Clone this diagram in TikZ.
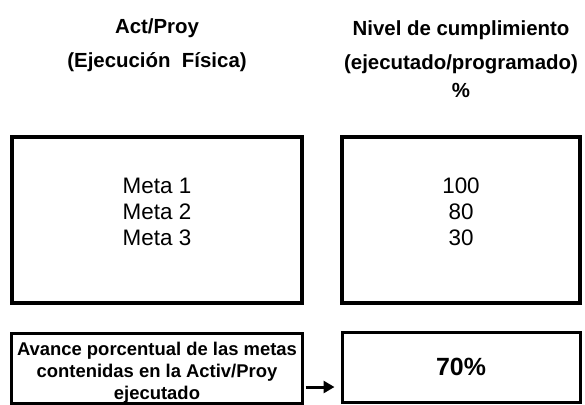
\documentclass[tikz,border=0pt]{standalone}
\usepackage{fontspec}
\setmainfont{Liberation Sans}
\usetikzlibrary{arrows.meta}

\begin{document}
\begin{tikzpicture}[x=1bp,y=-1bp,>={Triangle[length=11bp,width=12bp]}]
    \tikzstyle{box}=[draw=black,line width=3.5bp,minimum height=166bp,inner sep=0pt]
    \tikzstyle{left box}=[box,minimum width=290bp]
    \tikzstyle{right box}=[box,minimum width=238bp]
    \tikzstyle{result}=[draw=black,line width=3bp,minimum height=70bp,inner sep=0pt]
    \tikzstyle{head}=[align=center,font=\bfseries\fontsize{20.5}{34}\selectfont]
    \tikzstyle{list}=[align=center,font=\fontsize{22.5}{26}\selectfont]

    \useasboundingbox (0,0) rectangle (585,404);

    % Draw the column headings
    \node[head] (H-1) at (157,45) {Act/Proy\\(Ejecución\ \ Física)};
    \node[head] (H-2) at (461,59) {Nivel de cumplimiento\\(ejecutado/programado)\\[-6bp]\%};

    % Draw the two big boxes and their lists
    \node[left box] (B-1) at (157,220) {};
    \node[right box] (B-2) at (461,220) {};
    \node[list] (L-1) at (157,212) {Meta 1\\Meta 2\\Meta 3};
    \node[list] (L-2) at (461,212) {100\\80\\30};

    % Draw the result row
    \node[result,minimum width=290bp] (R-1) at (157,368) {};
    \node[align=center,font=\bfseries\fontsize{18.5}{22}\selectfont] (T-1) at (157,373)
      {Avance porcentual de las metas\\contenidas en la Activ/Proy\\ejecutado};
    \node[result,minimum width=238bp,font=\bfseries\fontsize{25}{28}\selectfont] (R-2) at (461,367) {70\%};

    % Connect the two result boxes
    \draw[->,line width=3bp,shorten <=2bp,shorten >=6bp]
      ([yshift=-19bp]R-1.east) -- ([yshift=-19bp]R-1.east -| R-2.west);
\end{tikzpicture}
\end{document}
